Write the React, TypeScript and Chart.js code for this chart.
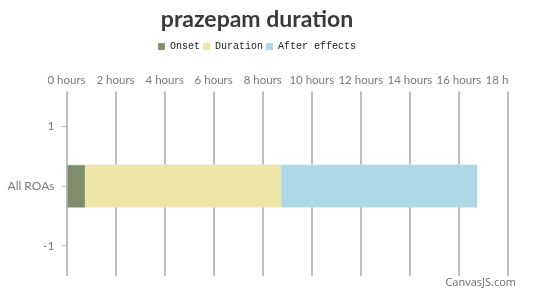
import React, { useEffect, useRef } from "react";
import { Chart, registerables } from "chart.js";

Chart.register(...registerables);

const TITLE = "prazepam duration";
const CATEGORY_LABEL = "All ROAs";
const SERIES_NAMES = ["Onset", "Duration", "After effects"];
const SERIES_VALUES = [0.75, 8, 8];
const SERIES_COLORS = ["#7f8c6e", "#eee6a8", "#add8e6"];
const X_MIN = 0;
const X_MAX = 18;
const X_STEP = 2;
const Y_TICKS = [1, 0, -1];
const Y_MIN = -1.5;
const Y_MAX = 1.5;

const AXIS_FONT = "Lato, 'Open Sans', sans-serif";

export default function App() {
  const ref = useRef<HTMLCanvasElement | null>(null);

  useEffect(() => {
    const canvas = ref.current;
    if (!canvas) return;

    const clipPlugin = {
      id: "clipAndCredit",
      beforeDraw(chart: any) {
        const ctx = chart.ctx;
        ctx.save();
        ctx.beginPath();
        ctx.rect(0, 0, chart.chartArea.right + 1, chart.height);
        ctx.clip();
      },
      afterDraw(chart: any) {
        const ctx = chart.ctx;
        ctx.restore();
        ctx.save();
        ctx.font = "11px 'Open Sans', sans-serif";
        ctx.fillStyle = "#6b6b6b";
        ctx.textAlign = "right";
        ctx.textBaseline = "middle";
        ctx.fillText("CanvasJS.com", 516, 283);
        ctx.restore();
      },
    };

    const chart = new Chart(canvas, {
      type: "bar",
      data: {
        datasets: SERIES_NAMES.map((name, i) => ({
          label: name,
          data: [{ x: SERIES_VALUES[i], y: 0 }],
          backgroundColor: SERIES_COLORS[i],
          borderColor: "#e2e2e2",
          borderWidth: { top: 1, left: 0, right: 0, bottom: 0 },
          borderSkipped: false,
          barThickness: 43,
        })),
      },
      options: {
        indexAxis: "y",
        animation: false,
        responsive: false,
        layout: { padding: { left: 3, right: 25, top: 0, bottom: 13.5 } },
        plugins: {
          title: {
            display: true,
            text: TITLE,
            color: "#3a3a3a",
            font: { family: "Lato, sans-serif", size: 23, weight: "bold" },
            padding: { top: 6, bottom: 5 },
          },
          legend: {
            display: true,
            labels: {
              boxWidth: 7,
              boxHeight: 7,
              padding: 3,
              color: "#222",
              font: { family: "'Liberation Mono', 'DejaVu Sans Mono', monospace", size: 10 },
            },
          },
          tooltip: { enabled: false },
        },
        scales: {
          x: {
            type: "linear",
            position: "top",
            min: X_MIN,
            max: X_MAX,
            stacked: true,
            afterFit(s: any) {
              s.paddingRight = 28;
              s.height += 8;
            },
            ticks: {
              stepSize: X_STEP,
              autoSkip: false,
              maxRotation: 0,
              minRotation: 0,
              padding: 4,
              color: "#7a7a7a",
              font: { family: AXIS_FONT, size: 11.5 },
              callback: (v: any) => `${v} hours`,
            },
            grid: {
              color: "#bdbdbd",
              lineWidth: 2,
              drawTicks: true,
              tickLength: 5,
            },
            border: { display: false },
          },
          y: {
            type: "linear",
            min: Y_MIN,
            max: Y_MAX,
            stacked: true,
            offset: false,
            afterFit(s: any) {
              s.width = 63.5;
            },
            afterBuildTicks(s: any) {
              s.ticks = Y_TICKS.map((v) => ({ value: v }));
            },
            ticks: {
              padding: 7,
              color: "#7a7a7a",
              font: { family: AXIS_FONT, size: 12 },
              callback: (v: any) => (v === 0 ? CATEGORY_LABEL : String(v)),
            },
            grid: {
              offset: false,
              drawOnChartArea: false,
              drawTicks: true,
              tickLength: 5,
              color: "#bdbdbd",
              lineWidth: 1,
            },
            border: { display: true, color: "#bdbdbd", width: 2 },
          },
        },
      },
      plugins: [clipPlugin],
    } as any);

    return () => chart.destroy();
  }, []);

  return (
    <div style={{ position: "fixed", left: 0, top: 0, width: 536, height: 290, background: "#fff" }}>
      <canvas ref={ref} width={536} height={290} style={{ display: "block" }} />
    </div>
  );
}
